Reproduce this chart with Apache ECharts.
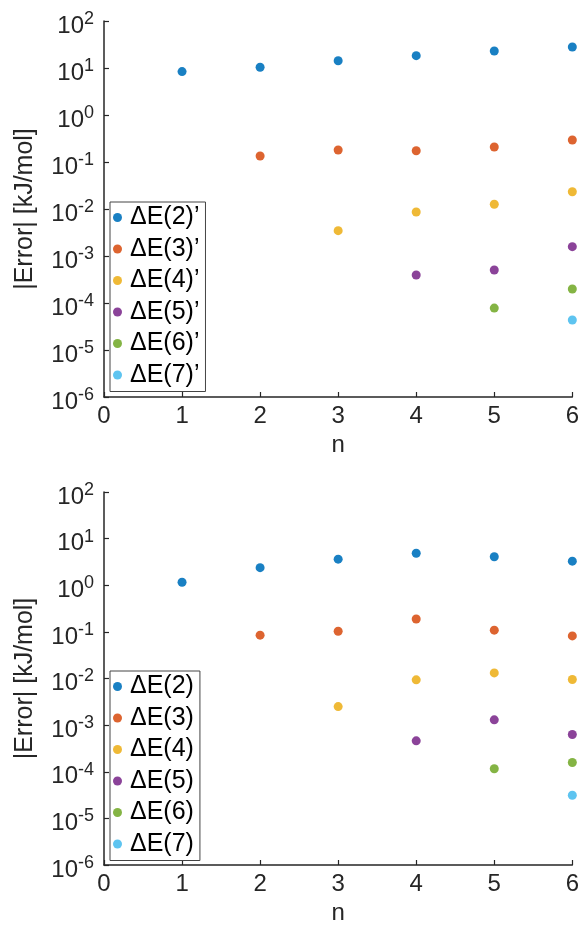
<!DOCTYPE html>
<html>
<head>
<meta charset="utf-8">
<script src="https://cdn.jsdelivr.net/npm/echarts@6/dist/echarts.min.js"></script>
<style>
html,body{margin:0;padding:0;background:#fff;}
#c{width:582px;height:926px;}
</style>
</head>
<body>
<div id="c"></div>
<script>
const nValues = [1, 2, 3, 4, 5, 6];
const xTicks = [0, 1, 2, 3, 4, 5, 6];
const yExponents = [-6, -5, -4, -3, -2, -1, 0, 1, 2];

// top panel: ΔE(k)'
const topNames = ['ΔE(2)’', 'ΔE(3)’', 'ΔE(4)’', 'ΔE(5)’', 'ΔE(6)’', 'ΔE(7)’'];
const topE2 = [8.4, 10.4, 14.3, 18.3, 23.0, 28.0];
const topE3 = [null, 0.134, 0.18, 0.174, 0.208, 0.294];
const topE4 = [null, null, 0.00346, 0.00863, 0.0126, 0.0233];
const topE5 = [null, null, null, 3.94e-4, 5.04e-4, 1.58e-3];
const topE6 = [null, null, null, null, 7.8e-5, 1.99e-4];
const topE7 = [null, null, null, null, null, 4.35e-5];

// bottom panel: ΔE(k)
const botNames = ['ΔE(2)', 'ΔE(3)', 'ΔE(4)', 'ΔE(5)', 'ΔE(6)', 'ΔE(7)'];
const botE2 = [1.16, 2.38, 3.63, 4.87, 4.08, 3.29];
const botE3 = [null, 0.085, 0.103, 0.189, 0.109, 0.082];
const botE4 = [null, null, 0.0025, 0.00937, 0.0132, 0.0095];
const botE5 = [null, null, null, 4.6e-4, 1.3e-3, 6.3e-4];
const botE6 = [null, null, null, null, 1.16e-4, 1.58e-4];
const botE7 = [null, null, null, null, null, 3.13e-5];

const colors = ['#0072BD', '#D95319', '#EDB120', '#7E2F8E', '#77AC30', '#4DBEEE'];

const FONT = '"Liberation Sans", Arial, Helvetica, sans-serif';
const AX = '#262626';

function pairs(vals) {
  const out = [];
  vals.forEach((v, i) => { if (v !== null) out.push([nValues[i], v]); });
  return out;
}

function xAxisCfg(gi) {
  return {
    type: 'value', gridIndex: gi, min: xTicks[0], max: xTicks[xTicks.length - 1], interval: 1,
    name: 'n', nameLocation: 'middle', nameGap: 36,
    nameTextStyle: { fontFamily: FONT, fontSize: 24, color: AX },
    axisLine: { show: true, lineStyle: { color: AX, width: 1.5 } },
    axisTick: { show: true, inside: true, length: 5, lineStyle: { color: AX, width: 1.2 } },
    axisLabel: { fontFamily: FONT, fontSize: 24, color: AX, margin: 7 },
    splitLine: { show: false }
  };
}

function yAxisCfg(gi) {
  return {
    type: 'log', logBase: 10, gridIndex: gi,
    min: Math.pow(10, yExponents[0]), max: Math.pow(10, yExponents[yExponents.length - 1]),
    splitNumber: yExponents.length - 1,
    name: '|Error| [kJ/mol]', nameLocation: 'middle', nameRotate: 90, nameGap: 66,
    nameTextStyle: { fontFamily: FONT, fontSize: 25, color: AX },
    axisLine: { show: true, lineStyle: { color: AX, width: 1.5 } },
    axisTick: { show: true, inside: true, length: 5, lineStyle: { color: AX, width: 1.2 } },
    minorTick: { show: false },
    splitLine: { show: false },
    axisLabel: {
      margin: 10,
      padding: [10, 0, 0, 0],
      formatter: function (v) {
        const e = Math.round(Math.log10(v));
        return '{b|10}{s|' + e + '}';
      },
      rich: {
        b: { fontFamily: FONT, fontSize: 24, color: AX, verticalAlign: 'bottom', lineHeight: 24 },
        s: { fontFamily: FONT, fontSize: 18, color: AX, verticalAlign: 'bottom', padding: [0, 0, 10, 0], lineHeight: 18 }
      }
    }
  };
}

function legendCfg(names, top) {
  return {
    data: names, orient: 'vertical', left: 110, top: top,
    padding: [3, 6, 4, 3],
    itemWidth: 9, itemHeight: 9, itemGap: 6.5,
    icon: 'circle',
    borderColor: '#444', borderWidth: 1, backgroundColor: '#fff',
    textStyle: { fontFamily: FONT, fontSize: 25, color: '#000', lineHeight: 25, padding: [0, 0, 0, 3] }
  };
}

const panels = [
  { names: topNames, vals: [topE2, topE3, topE4, topE5, topE6, topE7] },
  { names: botNames, vals: [botE2, botE3, botE4, botE5, botE6, botE7] }
];

const series = [];
panels.forEach((p, gi) => {
  p.vals.forEach((vals, k) => {
    series.push({
      type: 'scatter', name: p.names[k], xAxisIndex: gi, yAxisIndex: gi,
      data: pairs(vals), symbol: 'circle', symbolSize: 9, clip: false,
      itemStyle: { color: colors[k], opacity: 0.9 },
      emphasis: { disabled: true }
    });
  });
});

const chart = echarts.init(document.getElementById('c'), null, { renderer: 'canvas' });
chart.setOption({
  animation: false,
  backgroundColor: '#fff',
  grid: [
    { left: 104, top: 21, width: 470, height: 376 },
    { left: 104, top: 492, width: 470, height: 376 }
  ],
  xAxis: [xAxisCfg(0), xAxisCfg(1)],
  yAxis: [yAxisCfg(0), yAxisCfg(1)],
  legend: [legendCfg(topNames, 202), legendCfg(botNames, 671)],
  series: series
});
</script>
</body>
</html>
